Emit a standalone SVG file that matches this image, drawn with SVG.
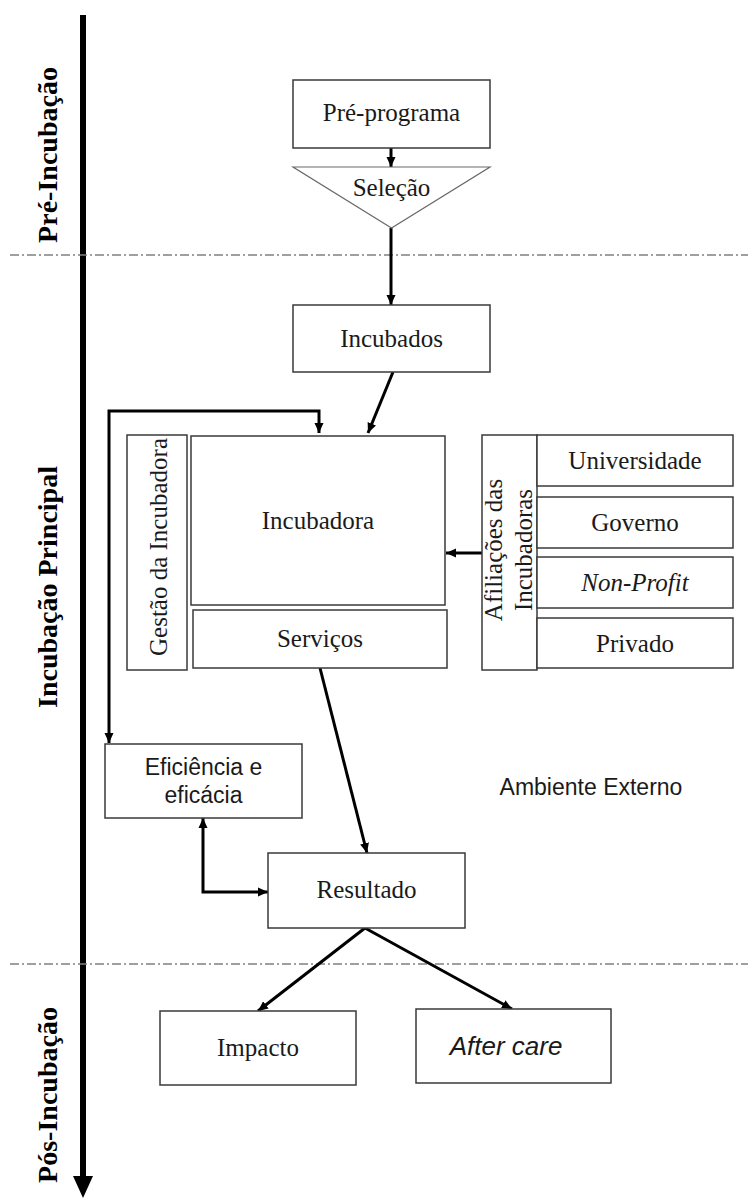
<svg xmlns="http://www.w3.org/2000/svg" width="748" height="1198" viewBox="0 0 748 1198">
<defs>
<style>
.box{fill:#fff;stroke:#3a3a3a;stroke-width:1.5}
.tri{fill:#fff;stroke:#6a6a6a;stroke-width:1.2}
.t{font-family:"Liberation Serif","Times New Roman",serif;font-size:25px;fill:#1a1a1a;text-anchor:middle}
.ts{font-family:"Liberation Sans",Arial,sans-serif;font-size:23px;fill:#1a1a1a;text-anchor:middle}
.ph{font-family:"Liberation Serif","Times New Roman",serif;font-size:28px;font-weight:bold;fill:#000;text-anchor:middle}
.con{fill:none;stroke:#000;stroke-width:3}
.sep{stroke:#808080;stroke-width:1.5;stroke-dasharray:9 3 2 3}
.it{font-style:italic}
.big{font-size:26px}
</style>
<marker id="ah" viewBox="0 0 10 10" refX="10" refY="5" markerWidth="10" markerHeight="10" markerUnits="userSpaceOnUse" orient="auto-start-reverse">
<path d="M0,0.5 L10,5 L0,9.5 z" fill="#000"/>
</marker>
</defs>

<g id="timeline">
<line x1="83" y1="15" x2="83" y2="1180" stroke="#000" stroke-width="6"/>
<polygon points="73,1176 93,1176 83,1198" fill="#000"/>
</g>

<g id="separators">
<line class="sep" x1="10" y1="255" x2="748" y2="255"/>
<line class="sep" x1="10" y1="964" x2="748" y2="964"/>
</g>

<g id="phase-labels">
<text class="ph" transform="translate(57,155) rotate(-90)">Pré-Incubação</text>
<text class="ph" transform="translate(57,587) rotate(-90)">Incubação Principal</text>
<text class="ph" transform="translate(57,1095) rotate(-90)">Pós-Incubação</text>
</g>

<g id="connectors">
<line class="con" x1="391" y1="148" x2="391" y2="167" marker-end="url(#ah)"/>
<line class="con" x1="391" y1="228" x2="391" y2="305" marker-end="url(#ah)"/>
<line class="con" x1="393" y1="372" x2="368" y2="433" marker-end="url(#ah)"/>
<polyline class="con" points="109,743 109,411 319,411 319,433" marker-start="url(#ah)" marker-end="url(#ah)"/>
<line class="con" x1="482" y1="553" x2="446" y2="553" marker-end="url(#ah)"/>
<line class="con" x1="320" y1="668" x2="367" y2="853" marker-end="url(#ah)"/>
<polyline class="con" points="203,818 203,892 268,892" marker-start="url(#ah)" marker-end="url(#ah)"/>
<line class="con" x1="365" y1="928" x2="258" y2="1011" marker-end="url(#ah)"/>
<line class="con" x1="365" y1="928" x2="512" y2="1009" marker-end="url(#ah)"/>
</g>

<g id="pre-programa">
<rect class="box" x="293" y="80" width="197" height="68"/>
<text class="t" x="391.5" y="121">Pré-programa</text>
</g>

<g id="selecao">
<polygon class="tri" points="293,167 490,167 391.5,228"/>
<text class="t" x="391.5" y="196">Seleção</text>
</g>

<g id="incubados">
<rect class="box" x="293" y="305" width="197" height="67"/>
<text class="t" x="391.5" y="347">Incubados</text>
</g>

<g id="gestao">
<rect class="box" x="127" y="435" width="60" height="235"/>
<text class="t" transform="translate(167,547) rotate(-90)">Gestão da Incubadora</text>
</g>

<g id="incubadora">
<rect class="box" x="191" y="436" width="254" height="169"/>
<text class="t" x="318" y="529">Incubadora</text>
</g>

<g id="servicos">
<rect class="box" x="193" y="610" width="254" height="58"/>
<text class="t" x="320" y="647">Serviços</text>
</g>

<g id="afiliacoes">
<rect class="box" x="482" y="435" width="55" height="235"/>
<text class="t" transform="translate(502,550) rotate(-90)">Afiliações das</text>
<text class="t" transform="translate(532,550) rotate(-90)">Incubadoras</text>
</g>

<g id="universidade">
<rect class="box" x="537" y="435" width="196" height="51"/>
<text class="t" x="635" y="469">Universidade</text>
</g>

<g id="governo">
<rect class="box" x="537" y="497" width="196" height="51"/>
<text class="t" x="635" y="531">Governo</text>
</g>

<g id="non-profit">
<rect class="box" x="537" y="557" width="196" height="51"/>
<text class="t it" x="635" y="591">Non-Profit</text>
</g>

<g id="privado">
<rect class="box" x="537" y="618" width="196" height="50"/>
<text class="t" x="635" y="652">Privado</text>
</g>

<g id="eficiencia">
<rect class="box" x="105" y="744" width="197" height="74"/>
<text class="ts" x="203.5" y="775">Eficiência e</text>
<text class="ts" x="203.5" y="803">eficácia</text>
</g>

<g id="ambiente-externo">
<text class="ts" x="591" y="795">Ambiente Externo</text>
</g>

<g id="resultado">
<rect class="box" x="268" y="853" width="197" height="75"/>
<text class="t" x="366.5" y="898">Resultado</text>
</g>

<g id="impacto">
<rect class="box" x="160" y="1011" width="196" height="74"/>
<text class="t" x="258" y="1056">Impacto</text>
</g>

<g id="after-care">
<rect class="box" x="416" y="1009" width="195" height="74"/>
<text class="ts it big" x="506" y="1055">After care</text>
</g>
</svg>
